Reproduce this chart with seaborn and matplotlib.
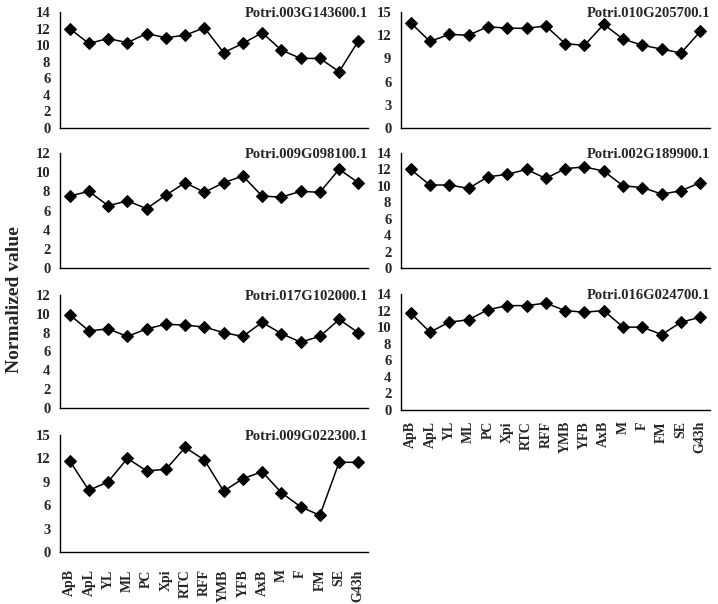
import matplotlib
matplotlib.use('Agg')
import matplotlib.pyplot as plt
import numpy as np
import pandas as pd
import seaborn as sns

# Tkanki (os X) i wartosci znormalizowane
tissues = ['ApB', 'ApL', 'YL', 'ML', 'PC', 'Xpi', 'RTC', 'RFF',
           'YMB', 'YFB', 'AxB', 'M', 'F', 'FM', 'SE', 'G43h']

g003G143600 = [12.0, 10.2, 10.8, 10.3, 11.4, 10.9, 11.2, 12.1,
               9.1, 10.2, 11.5, 9.4, 8.4, 8.4, 6.8, 10.5]
g009G098100 = [7.5, 8.0, 6.5, 7.0, 6.2, 7.6, 8.9, 7.9,
               8.9, 9.6, 7.5, 7.4, 8.0, 7.9, 10.3, 8.9]
g017G102000 = [9.9, 8.2, 8.4, 7.6, 8.4, 8.9, 8.8, 8.6,
               8.0, 7.6, 9.1, 7.9, 7.0, 7.6, 9.4, 8.0]
g009G022300 = [11.7, 7.9, 9.0, 12.0, 10.4, 10.6, 13.4, 11.8,
               7.8, 9.4, 10.3, 7.6, 5.8, 4.7, 11.5, 11.5]
g010G205700 = [13.6, 11.2, 12.1, 12.0, 13.1, 12.9, 12.9, 13.2,
               10.9, 10.7, 13.4, 11.5, 10.7, 10.2, 9.7, 12.5]
g002G189900 = [12.0, 10.1, 10.1, 9.7, 11.1, 11.4, 12.0, 10.9,
               12.1, 12.3, 11.8, 10.0, 9.8, 9.0, 9.4, 10.4]
g016G024700 = [11.7, 9.4, 10.6, 10.9, 12.1, 12.6, 12.6, 12.9,
               12.0, 11.8, 12.0, 10.0, 10.0, 9.1, 10.6, 11.2]

sns.set_style('white')
plt.rcParams['font.family'] = ['Liberation Serif', 'DejaVu Serif']
plt.rcParams['font.weight'] = 'bold'

W, H = 718, 604
fig = plt.figure(figsize=(W / 100, H / 100), dpi=100)

# (nazwa, dane, ymax, krok, [x0, x1, ytop, ybottom] w pikselach, odstep etykiet X)
panels = [
    ('Potri.003G143600.1', g003G143600, 14, 2, [60, 368, 12, 128], None),
    ('Potri.009G098100.1', g009G098100, 12, 2, [60, 368, 153, 268], None),
    ('Potri.017G102000.1', g017G102000, 12, 2, [60, 368, 295, 408], None),
    ('Potri.009G022300.1', g009G022300, 15, 3, [60, 368, 435, 552], 12.5),
    ('Potri.010G205700.1', g010G205700, 15, 3, [401, 710, 12, 128], None),
    ('Potri.002G189900.1', g002G189900, 14, 2, [401, 710, 153, 268], None),
    ('Potri.016G024700.1', g016G024700, 14, 2, [401, 710, 294, 410], 8),
]

for name, vals, ymax, step, (x0, x1, yt, yb), xpad in panels:
    ax = fig.add_axes([x0 / W, 1 - yb / H, (x1 - x0) / W, (yb - yt) / H])
    df = pd.DataFrame({'tissue': tissues, 'value': vals})
    sns.lineplot(data=df, x='tissue', y='value', ax=ax, color='black',
                 marker='D', markersize=6.5, markeredgecolor='black',
                 linewidth=1.1, sort=False)
    ax.set_xlim(-0.5, len(tissues) - 0.5)
    ax.set_ylim(0, ymax)
    ax.set_yticks(np.arange(0, ymax + 0.1, step))
    ax.set_xticks(range(len(tissues)))
    ax.set_xticks(np.arange(0.5, len(tissues), 1), minor=True)
    if xpad is not None:
        ax.set_xticklabels(tissues, rotation=90, fontsize=10, fontweight='bold')
    else:
        ax.set_xticklabels([])
        xpad = 8
    ax.tick_params(axis='x', which='major', length=0, pad=xpad)
    ax.tick_params(axis='x', which='minor', length=4, width=1, direction='in')
    ax.tick_params(axis='y', length=4, width=1, direction='out', labelsize=10.5, pad=3)
    for lab in ax.get_yticklabels():
        lab.set_fontweight('bold')
    for side in ['top', 'right']:
        ax.spines[side].set_visible(False)
    for side in ['left', 'bottom']:
        ax.spines[side].set_color('black')
        ax.spines[side].set_linewidth(1)
    ax.set_xlabel('')
    ax.set_ylabel('')
    ax.text(1.0, 1.04, name, transform=ax.transAxes, ha='right', va='top',
            fontsize=10.5, fontweight='bold')

fig.text(15 / W, 1 - 300 / H, 'Normalized value', rotation=90, ha='center',
         va='center', fontsize=14, fontweight='bold')

fig.savefig('out.png', dpi=100)
plt.close(fig)
